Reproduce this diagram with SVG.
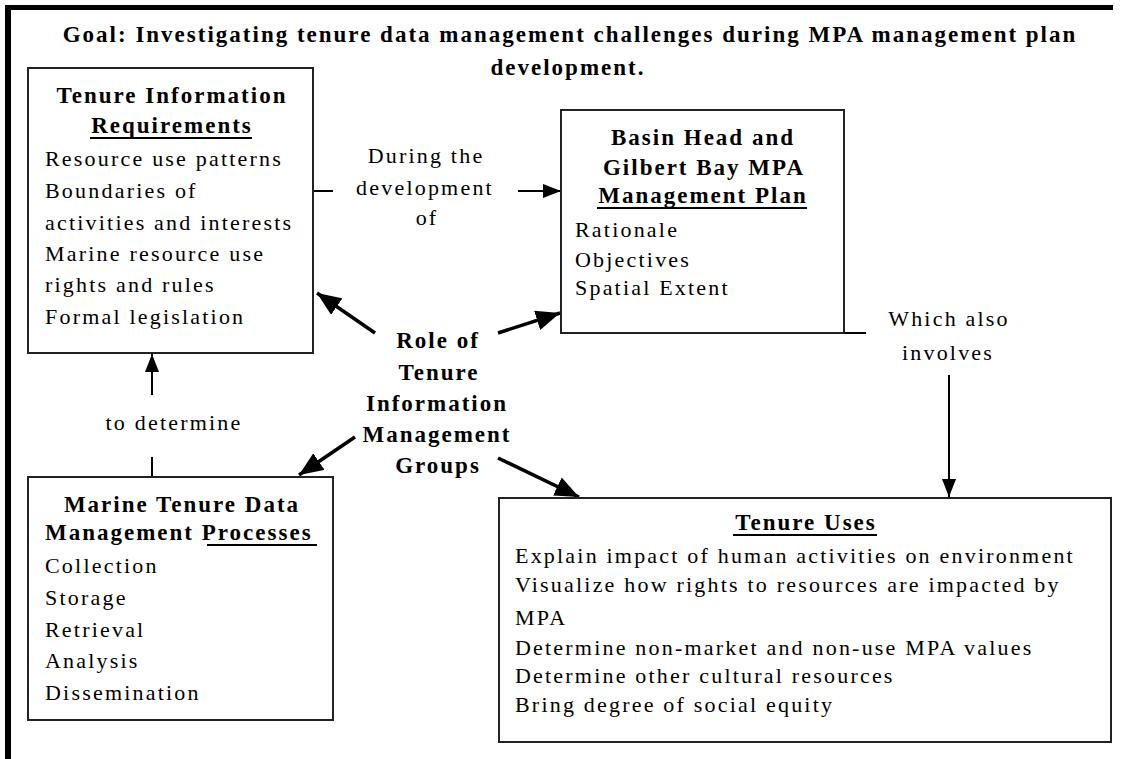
<svg xmlns="http://www.w3.org/2000/svg" width="1123" height="759" viewBox="0 0 1123 759">
  <style>
    .head { font-size: 23px; font-weight: bold; letter-spacing: 2px; fill: #000; }
    .body { font-size: 22px; letter-spacing: 2.2px; fill: #000; }
    .lbl { font-size: 22px; letter-spacing: 2.2px; fill: #000; text-anchor: middle; }
    .mid { text-anchor: middle; }
    .box { fill: #fff; stroke: #222; stroke-width: 2; }
    .thin { stroke: #000; stroke-width: 2; fill: none; }
    .thick { stroke: #000; stroke-width: 3.5; fill: none; }
    .ul { stroke: #000; stroke-width: 2; }
  </style>
  <defs>
    <marker id="bigHead" viewBox="0 0 24 20" refX="24" refY="10" markerWidth="24" markerHeight="20" markerUnits="userSpaceOnUse" orient="auto">
      <path d="M0,0 L24,10 L0,20 Z" fill="#000"/>
    </marker>
    <marker id="smallHead" viewBox="0 0 18 14" refX="18" refY="7" markerWidth="18" markerHeight="14" markerUnits="userSpaceOnUse" orient="auto">
      <path d="M0,0 L18,7 L0,14 Z" fill="#000"/>
    </marker>
  </defs>

  <rect width="1123" height="759" fill="#fff"/>

  <!-- page frame -->
  <g id="frame">
    <rect x="5" y="5" width="1108" height="5" fill="#000"/>
    <rect x="5" y="5" width="6" height="754" fill="#000"/>
  </g>

  <!-- goal heading -->
  <g id="title">
    <text class="head mid" font-family="Liberation Serif" x="570" y="42">Goal: Investigating tenure data management challenges during MPA management plan</text>
    <text class="head mid" font-family="Liberation Serif" x="568" y="75">development.</text>
  </g>

  <!-- connectors -->
  <g id="connectors">
    <!-- during the development of -->
    <line class="thin" x1="313" y1="191" x2="333" y2="191"/>
    <line class="thin" x1="518" y1="191" x2="561" y2="191" marker-end="url(#smallHead)"/>
    <text class="lbl" font-family="Liberation Serif" x="426" y="163">During the</text>
    <text class="lbl" font-family="Liberation Serif" x="425" y="195">development</text>
    <text class="lbl" font-family="Liberation Serif" x="427" y="225">of</text>

    <!-- to determine -->
    <line class="thin" x1="152" y1="395" x2="152" y2="354" marker-end="url(#smallHead)"/>
    <line class="thin" x1="152" y1="457" x2="152" y2="477"/>
    <text class="lbl" font-family="Liberation Serif" x="174" y="430">to determine</text>

    <!-- which also involves -->
    <polyline class="thin" points="844,333 866,333"/>
    <line class="thin" x1="949" y1="375" x2="949" y2="497" marker-end="url(#smallHead)"/>
    <text class="lbl" font-family="Liberation Serif" x="949" y="326">Which also</text>
    <text class="lbl" font-family="Liberation Serif" x="948" y="360">involves</text>

    <!-- role arrows -->
    <line class="thick" x1="375" y1="333" x2="317" y2="293" marker-end="url(#bigHead)"/>
    <line class="thick" x1="498" y1="333" x2="560" y2="313" marker-end="url(#bigHead)"/>
    <line class="thick" x1="355" y1="437" x2="299" y2="475" marker-end="url(#bigHead)"/>
    <line class="thick" x1="498" y1="458" x2="579" y2="497" marker-end="url(#bigHead)"/>
  </g>

  <!-- central label -->
  <g id="role">
    <text class="head mid" font-family="Liberation Serif" x="438" y="348">Role of</text>
    <text class="head mid" font-family="Liberation Serif" x="439" y="380">Tenure</text>
    <text class="head mid" font-family="Liberation Serif" x="437" y="411">Information</text>
    <text class="head mid" font-family="Liberation Serif" x="437" y="442">Management</text>
    <text class="head mid" font-family="Liberation Serif" x="438" y="473">Groups</text>
  </g>

  <!-- Tenure Information Requirements -->
  <g id="requirements">
    <rect class="box" x="28" y="68" width="285" height="285"/>
    <text class="head mid" font-family="Liberation Serif" x="172" y="103">Tenure Information</text>
    <text class="head mid" font-family="Liberation Serif" x="172" y="133">Requirements</text>
    <line class="ul" x1="90" y1="138" x2="252" y2="138"/>
    <text class="body" font-family="Liberation Serif" x="45" y="166">Resource use patterns</text>
    <text class="body" font-family="Liberation Serif" x="45" y="198">Boundaries of</text>
    <text class="body" font-family="Liberation Serif" x="45" y="230">activities and interests</text>
    <text class="body" font-family="Liberation Serif" x="45" y="261">Marine resource use</text>
    <text class="body" font-family="Liberation Serif" x="45" y="292">rights and rules</text>
    <text class="body" font-family="Liberation Serif" x="45" y="324">Formal legislation</text>
  </g>

  <!-- Basin Head and Gilbert Bay MPA Management Plan -->
  <g id="plan">
    <rect class="box" x="561" y="110" width="283" height="223"/>
    <text class="head mid" font-family="Liberation Serif" x="703" y="145">Basin Head and</text>
    <text class="head mid" font-family="Liberation Serif" x="704" y="175">Gilbert Bay MPA</text>
    <text class="head mid" font-family="Liberation Serif" x="703" y="203">Management Plan</text>
    <line class="ul" x1="597" y1="208" x2="807" y2="208"/>
    <text class="body" font-family="Liberation Serif" x="575" y="237">Rationale</text>
    <text class="body" font-family="Liberation Serif" x="575" y="267">Objectives</text>
    <text class="body" font-family="Liberation Serif" x="575" y="295">Spatial Extent</text>
  </g>

  <!-- Marine Tenure Data Management Processes -->
  <g id="processes">
    <rect class="box" x="28" y="477" width="305" height="243"/>
    <text class="head mid" font-family="Liberation Serif" x="182" y="512">Marine Tenure Data</text>
    <text class="head" font-family="Liberation Serif" x="45" y="540">Management Processes</text>
    <line class="ul" x1="207" y1="545" x2="317" y2="545"/>
    <text class="body" font-family="Liberation Serif" x="45" y="573">Collection</text>
    <text class="body" font-family="Liberation Serif" x="45" y="605">Storage</text>
    <text class="body" font-family="Liberation Serif" x="45" y="637">Retrieval</text>
    <text class="body" font-family="Liberation Serif" x="45" y="668">Analysis</text>
    <text class="body" font-family="Liberation Serif" x="45" y="700">Dissemination</text>
  </g>

  <!-- Tenure Uses -->
  <g id="uses">
    <rect class="box" x="499" y="498" width="612" height="244"/>
    <text class="head mid" font-family="Liberation Serif" x="806" y="530">Tenure Uses</text>
    <line class="ul" x1="733" y1="535" x2="877" y2="535"/>
    <text class="body" font-family="Liberation Serif" x="515" y="563">Explain impact of human activities on environment</text>
    <text class="body" font-family="Liberation Serif" x="515" y="592">Visualize how rights to resources are impacted by</text>
    <text class="body" font-family="Liberation Serif" x="515" y="625">MPA</text>
    <text class="body" font-family="Liberation Serif" x="515" y="655">Determine non-market and non-use MPA values</text>
    <text class="body" font-family="Liberation Serif" x="515" y="683">Determine other cultural resources</text>
    <text class="body" font-family="Liberation Serif" x="515" y="712">Bring degree of social equity</text>
  </g>
</svg>
